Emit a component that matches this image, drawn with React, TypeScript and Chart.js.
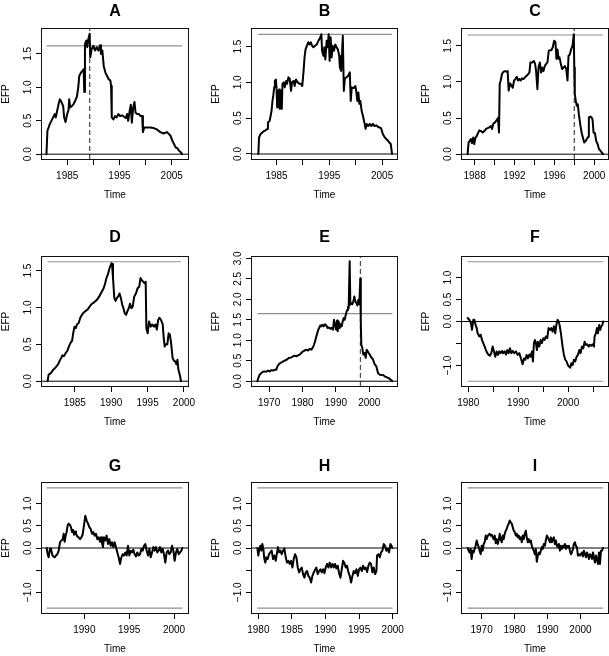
import { useEffect, useRef } from 'react';
import { Chart, registerables } from 'chart.js';
Chart.register(...registerables);

const FONT = '"Liberation Sans", Arial, Helvetica, sans-serif';

// ---------- data (time in years, EFP values) ----------
const aTime = [1981.03,1981.22,1981.67,1982.31,1982.63,1982.82,1983.08,1983.33,1983.59,1983.91,1984.23,1984.42,1984.68,1985.0,1985.26,1985.38,1985.58,1985.9,1986.22,1986.54,1986.86,1987.12,1987.31,1987.63,1987.95,1988.14,1988.27,1988.4,1988.65,1988.85,1989.04,1989.3,1989.42,1989.68,1990.0,1990.32,1990.64,1990.96,1991.28,1991.47,1991.73,1991.99,1992.31,1992.63,1992.95,1993.27,1993.4,1993.53,1993.85,1994.17,1994.49,1994.81,1995.13,1995.51,1995.9,1996.22,1996.47,1996.67,1996.92,1997.18,1997.37,1997.63,1997.88,1998.08,1998.4,1998.72,1999.04,1999.36,1999.49,1999.74,2000.26,2000.9,2001.54,2002.18,2002.82,2003.46,2004.1,2004.49,2004.81,2005.13,2005.45,2005.77,2006.09,2006.41,2006.73,2006.99];
const aEfp = [0,0.35,0.45,0.55,0.6,0.55,0.65,0.74,0.82,0.78,0.72,0.55,0.48,0.6,0.66,0.82,0.7,0.72,0.75,0.8,0.86,1.0,1.17,1.22,1.25,1.27,0.93,1.65,1.7,1.6,1.72,1.8,1.45,1.57,1.62,1.55,1.6,1.55,1.63,1.5,1.55,1.32,1.22,1.17,1.12,1.1,1.02,0.55,0.52,0.57,0.55,0.6,0.57,0.58,0.56,0.54,0.6,0.5,0.63,0.74,0.47,0.7,0.78,0.62,0.6,0.6,0.57,0.57,0.33,0.4,0.4,0.4,0.39,0.37,0.33,0.31,0.33,0.3,0.27,0.2,0.15,0.1,0.09,0.05,0.03,0];

const bTime = [1981.56,1981.69,1982.0,1982.31,1982.63,1982.94,1983.25,1983.38,1983.69,1983.88,1984.06,1984.25,1984.38,1984.56,1984.69,1984.88,1985.0,1985.13,1985.25,1985.38,1985.5,1985.63,1985.81,1986.0,1986.13,1986.38,1986.56,1986.81,1987.0,1987.25,1987.5,1987.75,1987.94,1988.25,1988.44,1988.69,1989.0,1989.31,1989.63,1989.88,1990.13,1990.31,1990.5,1990.75,1991.0,1991.25,1991.5,1991.75,1992.0,1992.31,1992.63,1992.94,1993.25,1993.5,1993.63,1993.88,1994.06,1994.25,1994.5,1994.69,1994.88,1995.06,1995.25,1995.44,1995.63,1995.88,1996.13,1996.38,1996.63,1996.88,1997.0,1997.25,1997.56,1997.75,1997.94,1998.25,1998.56,1998.88,1999.06,1999.25,1999.63,1999.94,2000.13,2000.31,2000.5,2000.69,2000.88,2001.13,2001.38,2001.69,2001.88,2002.06,2002.38,2002.63,2002.94,2003.25,2003.56,2003.88,2004.19,2004.5,2004.81,2005.13,2005.44,2005.75,2006.06,2006.38,2006.63,2006.88];
const bEfp = [0,0.23,0.28,0.3,0.32,0.33,0.35,0.44,0.46,0.53,0.6,0.75,0.81,0.93,1.02,1.04,0.93,0.65,0.88,0.67,0.9,0.63,0.88,0.63,0.98,1.0,0.93,1.02,0.98,1.07,1.05,0.88,1.0,1.02,0.95,1.04,1.0,0.98,0.98,0.95,1.16,1.35,1.46,1.51,1.56,1.53,1.56,1.51,1.49,1.51,1.53,1.58,1.62,1.67,1.44,1.37,1.49,1.32,1.58,1.49,1.67,1.3,1.63,1.35,1.51,1.44,1.53,1.49,1.46,1.37,1.21,1.16,1.65,0.88,1.05,1.07,1.09,1.14,0.74,0.93,0.92,0.95,0.86,0.74,0.86,0.7,0.74,0.6,0.53,0.42,0.35,0.42,0.39,0.42,0.39,0.42,0.39,0.4,0.38,0.37,0.36,0.28,0.24,0.21,0.19,0.16,0.14,0];

const cTime = [1987.3,1987.4,1987.54,1987.64,1987.74,1987.87,1987.97,1988.07,1988.21,1988.34,1988.48,1988.64,1988.81,1988.98,1989.15,1989.31,1989.48,1989.65,1989.75,1989.88,1990.05,1990.22,1990.35,1990.45,1990.52,1990.62,1990.75,1990.89,1991.06,1991.22,1991.32,1991.42,1991.56,1991.69,1991.83,1991.96,1992.09,1992.23,1992.36,1992.5,1992.63,1992.76,1992.9,1993.03,1993.17,1993.33,1993.5,1993.6,1993.77,1993.94,1994.07,1994.17,1994.3,1994.41,1994.54,1994.67,1994.77,1994.91,1995.04,1995.18,1995.31,1995.44,1995.58,1995.71,1995.84,1995.98,1996.11,1996.21,1996.32,1996.42,1996.52,1996.65,1996.78,1996.92,1997.05,1997.19,1997.32,1997.42,1997.55,1997.68,1997.82,1997.95,1998.0,1998.05,1998.15,1998.25,1998.35,1998.46,1998.59,1998.73,1998.86,1998.99,1999.13,1999.26,1999.4,1999.46,1999.6,1999.73,1999.83,1999.93,2000.07,2000.2,2000.34,2000.47,2000.61,2000.81,2000.87];
const cEfp = [0,0.16,0.19,0.21,0.15,0.23,0.14,0.22,0.25,0.29,0.33,0.32,0.3,0.32,0.35,0.36,0.37,0.39,0.35,0.42,0.44,0.47,0.5,0.3,0.97,1.02,1.11,1.14,1.15,1.14,1.15,0.88,0.98,0.95,0.92,1.02,1.04,1.07,1.02,1.04,1.02,1.05,1.04,1.06,1.08,1.1,1.13,1.27,1.27,1.29,1.25,1.15,0.9,1.2,1.27,1.13,1.2,1.15,1.22,1.25,1.27,1.43,1.44,1.44,1.48,1.57,1.55,1.32,1.45,1.32,1.34,1.25,1.18,1.2,1.22,1.18,1.02,1.36,1.38,1.45,1.5,1.66,1.2,0.83,0.74,0.67,0.69,0.55,0.42,0.3,0.23,0.16,0.18,0.21,0.24,0.51,0.52,0.51,0.48,0.3,0.29,0.18,0.14,0.07,0.05,0.01,0];

const dTime = [1981.27,1981.41,1981.72,1982.08,1982.4,1982.71,1982.89,1983.16,1983.29,1983.52,1983.74,1983.97,1984.19,1984.42,1984.64,1984.78,1984.96,1985.13,1985.31,1985.54,1985.76,1985.99,1986.21,1986.44,1986.75,1987.02,1987.33,1987.65,1988.01,1988.37,1988.68,1988.91,1989.13,1989.35,1989.58,1989.8,1990.03,1990.12,1990.25,1990.43,1990.61,1990.79,1990.97,1991.15,1991.33,1991.51,1991.69,1991.87,1992.05,1992.23,1992.41,1992.59,1992.77,1992.95,1993.17,1993.4,1993.62,1993.85,1994.03,1994.21,1994.38,1994.56,1994.74,1994.83,1995.01,1995.19,1995.42,1995.64,1995.87,1996.09,1996.27,1996.45,1996.63,1996.85,1997.08,1997.21,1997.35,1997.53,1997.71,1997.89,1998.07,1998.25,1998.43,1998.61,1998.79,1998.97,1999.1,1999.23,1999.46,1999.59];
const dEfp = [0,0.09,0.11,0.16,0.19,0.23,0.27,0.32,0.35,0.34,0.38,0.41,0.47,0.52,0.55,0.65,0.74,0.72,0.77,0.79,0.86,0.9,0.93,0.95,0.97,1.01,1.05,1.07,1.1,1.15,1.21,1.25,1.31,1.4,1.46,1.54,1.6,1.59,1.4,1.13,1.09,1.13,1.15,1.19,1.13,1.04,0.99,0.92,0.9,0.95,0.99,1.05,0.99,1.01,1.15,1.19,1.26,1.28,1.4,1.37,1.35,1.33,1.35,0.72,0.65,0.81,0.74,0.77,0.74,0.77,0.7,0.83,0.86,0.83,0.77,0.59,0.47,0.5,0.5,0.65,0.63,0.5,0.32,0.28,0.27,0.23,0.29,0.16,0.07,0];

const eTime = [1966.48,1966.78,1967.18,1967.67,1968.17,1968.67,1969.17,1969.67,1970.17,1970.67,1971.17,1971.67,1972.17,1972.47,1972.96,1973.46,1973.96,1974.66,1975.36,1975.96,1976.66,1977.16,1977.66,1978.15,1978.65,1979.15,1979.65,1980.15,1980.65,1981.15,1981.65,1982.15,1982.65,1983.14,1983.44,1983.74,1984.14,1984.44,1984.74,1985.04,1985.34,1985.64,1985.94,1986.34,1986.74,1987.13,1987.53,1987.93,1988.33,1988.73,1989.13,1989.43,1989.73,1990.03,1990.33,1990.53,1990.83,1991.13,1991.43,1991.73,1992.03,1992.32,1992.62,1992.92,1993.22,1993.42,1993.62,1993.82,1994.12,1994.32,1994.62,1994.92,1995.22,1995.52,1995.82,1996.12,1996.42,1996.72,1997.01,1997.3,1997.45,1997.61,1997.91,1998.21,1998.61,1998.91,1999.21,1999.51,1999.81,2000.11,2000.61,2001.11,2001.61,2002.11,2002.61,2003.1,2003.6,2004.1,2004.6,2005.1,2005.6,2006.1,2006.6,2006.9];
const eEfp = [0,0.08,0.16,0.2,0.23,0.24,0.23,0.26,0.24,0.27,0.26,0.28,0.28,0.36,0.42,0.45,0.47,0.5,0.53,0.57,0.58,0.61,0.62,0.61,0.63,0.65,0.69,0.73,0.75,0.77,0.75,0.79,0.77,0.83,0.89,0.97,1.09,1.18,1.26,1.31,1.36,1.34,1.38,1.34,1.39,1.36,1.3,1.31,1.28,1.3,1.26,1.5,1.38,1.26,1.48,1.22,1.46,1.3,1.39,1.34,1.46,1.54,1.5,1.61,1.7,1.74,1.82,1.78,2.93,1.87,1.91,1.88,1.95,2.07,1.95,1.91,1.85,1.99,1.88,2.51,1.46,0.89,0.81,0.65,0.69,0.57,0.77,0.73,0.69,0.65,0.58,0.53,0.41,0.36,0.2,0.16,0.15,0.15,0.12,0.1,0.08,0.06,0.02,0];

const fTime = [1979.87,1980.21,1980.54,1980.74,1981.01,1981.21,1981.41,1981.68,1981.88,1982.21,1982.48,1982.74,1983.01,1983.28,1983.54,1983.81,1984.08,1984.34,1984.61,1984.88,1985.15,1985.41,1985.68,1985.95,1986.21,1986.48,1986.75,1987.01,1987.28,1987.55,1987.81,1988.08,1988.35,1988.62,1988.88,1989.22,1989.55,1989.88,1990.22,1990.55,1990.88,1991.15,1991.42,1991.68,1991.95,1992.22,1992.48,1992.75,1992.95,1993.15,1993.35,1993.55,1993.75,1993.95,1994.22,1994.49,1994.75,1995.02,1995.29,1995.55,1995.82,1996.09,1996.36,1996.62,1996.89,1997.16,1997.42,1997.69,1997.89,1998.09,1998.29,1998.56,1998.89,1999.16,1999.43,1999.69,1999.96,2000.23,2000.43,2000.63,2000.9,2001.17,2001.43,2001.7,2001.97,2002.24,2002.5,2002.77,2003.04,2003.3,2003.57,2003.84,2004.11,2004.37,2004.64,2004.91,2005.17,2005.31,2005.57,2005.77,2005.97,2006.24,2006.44,2006.64,2006.84,2007.04];
const fEfp = [0.08,0.04,-0.04,-0.19,0.04,0.04,-0.06,-0.15,-0.27,-0.34,-0.3,-0.42,-0.49,-0.57,-0.65,-0.72,-0.76,-0.78,-0.72,-0.57,-0.68,-0.8,-0.68,-0.76,-0.68,-0.72,-0.67,-0.72,-0.68,-0.75,-0.65,-0.72,-0.61,-0.72,-0.67,-0.72,-0.68,-0.76,-0.72,-0.84,-0.97,-0.84,-0.87,-0.76,-0.84,-0.75,-0.8,-0.68,-0.91,-0.49,-0.42,-0.49,-0.65,-0.46,-0.57,-0.42,-0.49,-0.38,-0.42,-0.34,-0.38,-0.15,-0.19,-0.15,-0.23,-0.11,-0.27,-0.04,0.04,0,-0.08,-0.27,-0.57,-0.76,-0.87,-0.91,-0.99,-1.03,-1.05,-0.95,-0.99,-0.87,-0.91,-0.8,-0.76,-0.65,-0.72,-0.57,-0.61,-0.46,-0.53,-0.52,-0.57,-0.53,-0.55,-0.52,-0.57,-0.34,-0.27,-0.15,-0.27,-0.08,-0.19,-0.11,-0.08,0];

const gTime = [1985.8,1985.91,1986.02,1986.17,1986.28,1986.43,1986.54,1986.69,1986.84,1986.99,1987.14,1987.29,1987.43,1987.58,1987.7,1987.81,1987.92,1988.03,1988.14,1988.25,1988.4,1988.51,1988.62,1988.74,1988.85,1988.96,1989.07,1989.22,1989.37,1989.52,1989.67,1989.81,1989.96,1990.11,1990.26,1990.41,1990.56,1990.71,1990.86,1991.0,1991.15,1991.3,1991.45,1991.6,1991.75,1991.86,1991.97,1992.08,1992.19,1992.34,1992.49,1992.64,1992.79,1992.94,1993.09,1993.23,1993.38,1993.53,1993.68,1993.83,1993.98,1994.13,1994.28,1994.42,1994.57,1994.72,1994.87,1995.02,1995.17,1995.32,1995.46,1995.61,1995.76,1995.91,1996.06,1996.21,1996.36,1996.51,1996.65,1996.8,1996.95,1997.1,1997.25,1997.4,1997.55,1997.7,1997.84,1997.99,1998.14,1998.29,1998.44,1998.59,1998.74,1998.88,1999.03,1999.18,1999.33,1999.48,1999.63,1999.78,1999.93,2000.07,2000.22,2000.37,2000.52,2000.67,2000.82,2000.93];
const gEfp = [0,-0.14,-0.21,-0.02,-0.01,-0.16,-0.19,-0.21,-0.17,-0.14,-0.06,0.13,0.17,0.19,0.32,0.14,0.28,0.36,0.51,0.55,0.52,0.47,0.36,0.41,0.3,0.37,0.32,0.26,0.24,0.2,0.24,0.3,0.51,0.73,0.62,0.55,0.47,0.43,0.32,0.36,0.28,0.32,0.2,0.24,0.14,0.24,0.11,0.02,0.24,0.17,0.28,0.09,0.2,0.05,0.13,0.02,0.13,0.02,-0.1,-0.21,-0.36,-0.21,-0.14,-0.17,-0.1,-0.17,0.05,-0.17,-0.06,-0.1,-0.04,-0.14,-0.19,-0.1,-0.17,-0.14,-0.02,-0.06,0.05,0.09,-0.06,-0.17,-0.02,-0.21,-0.1,0.02,-0.06,0.02,-0.1,-0.06,0.02,-0.1,-0.02,-0.14,-0.33,-0.1,-0.06,-0.14,-0.1,0.05,-0.06,-0.29,-0.1,-0.02,-0.14,-0.1,-0.06,0];

const hTime = [1979.86,1980.0,1980.15,1980.3,1980.45,1980.6,1980.75,1980.9,1981.05,1981.2,1981.4,1981.59,1981.79,1981.99,1982.19,1982.39,1982.59,1982.79,1982.93,1983.08,1983.28,1983.48,1983.68,1983.88,1984.08,1984.27,1984.47,1984.67,1984.87,1985.07,1985.27,1985.47,1985.67,1985.87,1986.07,1986.26,1986.46,1986.66,1986.86,1987.06,1987.26,1987.45,1987.65,1987.85,1988.05,1988.25,1988.45,1988.64,1988.84,1989.04,1989.24,1989.44,1989.64,1989.84,1990.03,1990.23,1990.43,1990.63,1990.83,1991.03,1991.23,1991.42,1991.62,1991.82,1992.02,1992.22,1992.42,1992.62,1992.81,1993.01,1993.21,1993.41,1993.61,1993.81,1994.01,1994.2,1994.4,1994.6,1994.8,1995.0,1995.2,1995.4,1995.59,1995.79,1995.99,1996.19,1996.39,1996.58,1996.78,1996.98,1997.18,1997.38,1997.58,1997.67,1997.87,1998.07,1998.27,1998.47,1998.67,1998.87,1999.06,1999.26,1999.46,1999.66,1999.81,1999.96];
const hEfp = [0,-0.17,-0.02,0.05,-0.06,0.09,-0.02,-0.25,-0.33,-0.21,-0.25,-0.14,-0.1,-0.06,-0.25,-0.17,-0.29,-0.1,0.02,-0.1,-0.06,-0.14,-0.06,-0.01,-0.21,-0.33,-0.29,-0.36,-0.29,-0.44,-0.25,-0.14,-0.21,-0.44,-0.55,-0.48,-0.44,-0.59,-0.67,-0.55,-0.52,-0.63,-0.67,-0.78,-0.63,-0.55,-0.49,-0.44,-0.59,-0.52,-0.48,-0.55,-0.48,-0.57,-0.44,-0.36,-0.44,-0.33,-0.44,-0.36,-0.44,-0.36,-0.46,-0.4,-0.57,-0.67,-0.48,-0.29,-0.34,-0.44,-0.4,-0.55,-0.63,-0.78,-0.63,-0.52,-0.57,-0.48,-0.63,-0.48,-0.44,-0.52,-0.4,-0.48,-0.44,-0.54,-0.4,-0.33,-0.36,-0.55,-0.44,-0.59,-0.52,-0.17,-0.14,-0.21,-0.1,-0.06,0.09,0.05,-0.06,-0.02,-0.1,0.09,0.05,0];

const iTime = [1965.76,1966.06,1966.37,1966.67,1966.98,1967.28,1967.59,1967.89,1968.19,1968.5,1968.8,1969.11,1969.41,1969.72,1970.02,1970.32,1970.63,1970.93,1971.24,1971.54,1971.85,1972.15,1972.45,1972.76,1973.06,1973.37,1973.67,1973.98,1974.28,1974.58,1974.89,1975.19,1975.5,1975.8,1976.11,1976.41,1976.71,1977.02,1977.32,1977.63,1977.93,1978.24,1978.54,1978.84,1979.15,1979.45,1979.76,1980.06,1980.37,1980.67,1980.97,1981.28,1981.58,1981.89,1982.19,1982.49,1982.8,1983.1,1983.41,1983.71,1984.02,1984.32,1984.62,1984.93,1985.23,1985.54,1985.84,1986.15,1986.45,1986.75,1987.06,1987.36,1987.67,1987.97,1988.28,1988.58,1988.88,1989.19,1989.49,1989.8,1990.1,1990.41,1990.71,1991.01,1991.32,1991.62,1991.93,1992.23,1992.54,1992.84,1993.14,1993.45,1993.75,1994.06,1994.36,1994.67,1994.97,1995.27,1995.58,1995.88,1996.19,1996.49,1996.8,1997.1,1997.4,1997.71,1998.01,1998.32,1998.62,1998.93,1999.23,1999.53,1999.84,2000.14,2000.45,2000.75,2001.06,2001.36,2001.66,2001.97,2002.27,2002.58,2002.88,2003.19,2003.49,2003.79,2004.1,2004.4,2004.71,2005.01,2005.32,2005.62,2005.93,2006.23,2006.53,2006.84];
const iEfp = [0,-0.06,-0.1,-0.02,-0.25,-0.06,-0.1,-0.02,0.05,0.17,0.09,0.02,-0.06,-0.14,0.05,-0.06,0.09,0.13,0.28,0.2,0.27,0.3,0.32,0.28,0.3,0.24,0.2,0.28,0.11,0.2,0.09,0.17,0.32,0.2,0.13,0.28,0.2,0.32,0.39,0.43,0.51,0.55,0.62,0.58,0.55,0.47,0.39,0.36,0.28,0.32,0.24,0.28,0.2,0.24,0.13,0.28,0.2,0.32,0.39,0.24,0.13,0.2,0.13,0.17,0.05,-0.02,-0.06,-0.14,-0.02,-0.31,-0.17,-0.1,-0.14,-0.06,0.02,-0.02,0.09,0.05,0.17,0.28,0.24,0.19,0.13,0.24,0.13,0.2,0.24,0.09,0.17,0.05,0.02,0.09,-0.06,0.05,-0.02,0.05,0.02,0.09,-0.02,0.05,0.02,0.05,-0.06,-0.14,-0.1,-0.02,0.09,0.13,0.05,0.02,-0.17,-0.14,-0.17,-0.14,-0.1,-0.19,-0.06,-0.14,-0.21,-0.1,-0.16,-0.25,-0.14,-0.17,-0.25,-0.1,-0.21,-0.33,-0.17,-0.25,-0.36,-0.1,-0.36,-0.06,-0.06,0];

// ---------- axis ticks ----------
const ticksAB = [1985, 1990, 1995, 2000, 2005];
const labelsAB = ['1985', '', '1995', '', '2005'];
const ticksC = [1988, 1990, 1992, 1994, 1996, 1998, 2000];
const labelsC = ['1988', '', '1992', '', '1996', '', '2000'];
const ticksD = [1985, 1990, 1995, 2000];
const ticksE = [1970, 1980, 1990, 2000];
const ticksF = [1980, 1985, 1990, 1995, 2000, 2005];
const labelsF = ['1980', '', '1990', '', '2000', ''];
const ticksG = [1990, 1995, 2000];
const ticksH = [1980, 1985, 1990, 1995, 2000];
const ticksI = [1970, 1980, 1990, 2000];

const yTicksPos = [0, 0.5, 1, 1.5];
const yLabelsPos = ['0.0', '0.5', '1.0', '1.5'];
const yTicksE = [0, 0.5, 1, 1.5, 2, 2.5, 3];
const yLabelsE = ['0.0', '0.5', '1.0', '1.5', '2.0', '2.5', '3.0'];
const yTicksSym = [-1, -0.5, 0, 0.5, 1];
const yLabelsSym = ['\u22121.0', '', '0.0', '0.5', '1.0'];

// boundaries / break dates
const boundA = 1.62, boundB = 1.67, boundC = 1.65, boundD = 1.62, boundE = 1.65, boundSym = 1.358;
const breakA = 1989.3, breakC = 1998.0, breakE = 1997.35;

type Panel = {
  title: string; time: number[]; efp: number[];
  cx: number; cy: number; cw: number; ch: number;
  l: number; r: number; t: number; b: number; titleY: number;
  xMin: number; xMax: number; yMin: number; yMax: number;
  xTicks: number[]; xLabels: string[]; yTicks: number[]; yLabels: string[];
  bound: number; sym: boolean; brk: number | null;
};

const COLS = [
  { cx: 0, cw: 203, l: 42, r: 188 },
  { cx: 203, cw: 203, l: 252, r: 397 },
  { cx: 406, cw: 203, l: 462, r: 608 },
];
const ROWS = [
  { cy: 0, ch: 218, t: 29, b: 159, titleY: 12 },
  { cy: 218, ch: 218, t: 257, b: 386, titleY: 238 },
  { cy: 436, ch: 220, t: 483, b: 613, titleY: 467 },
];

function mk(title: string, row: number, col: number, time: number[], efp: number[], rest: any): Panel {
  return { title, time, efp, ...COLS[col], ...ROWS[row], ...rest } as Panel;
}

const PANELS: Panel[] = [
  mk('A', 0, 0, aTime, aEfp, { xMin: 1980.18, xMax: 2008.12, yMin: -0.072, yMax: 1.872, xTicks: ticksAB, xLabels: labelsAB, yTicks: yTicksPos, yLabels: yLabelsPos, bound: boundA, sym: false, brk: breakA }),
  mk('B', 0, 1, bTime, bEfp, { xMin: 1980.36, xMax: 2007.82, yMin: -0.07, yMax: 1.745, xTicks: ticksAB, xLabels: labelsAB, yTicks: yTicksPos, yLabels: yLabelsPos, bound: boundB, sym: false, brk: null }),
  mk('C', 0, 2, cTime, cEfp, { xMin: 1986.74, xMax: 2001.38, yMin: -0.067, yMax: 1.733, xTicks: ticksC, xLabels: labelsC, yTicks: yTicksPos, yLabels: yLabelsPos, bound: boundC, sym: false, brk: breakC }),
  mk('D', 1, 0, dTime, dEfp, { xMin: 1980.5, xMax: 2000.55, yMin: -0.065, yMax: 1.685, xTicks: ticksD, xLabels: ticksD.map(String), yTicks: yTicksPos, yLabels: yLabelsPos, bound: boundD, sym: false, brk: null }),
  mk('E', 1, 1, eTime, eEfp, { xMin: 1964.88, xMax: 2008.29, yMin: -0.117, yMax: 3.033, xTicks: ticksE, xLabels: ticksE.map(String), yTicks: yTicksE, yLabels: yLabelsE, bound: boundE, sym: false, brk: breakE }),
  mk('F', 1, 2, fTime, fEfp, { xMin: 1978.74, xMax: 2007.99, yMin: -1.467, yMax: 1.467, xTicks: ticksF, xLabels: labelsF, yTicks: yTicksSym, yLabels: yLabelsSym, bound: boundSym, sym: true, brk: null }),
  mk('G', 2, 0, gTime, gEfp, { xMin: 1985.28, xMax: 2001.56, yMin: -1.467, yMax: 1.467, xTicks: ticksG, xLabels: ticksG.map(String), yTicks: yTicksSym, yLabels: yLabelsSym, bound: boundSym, sym: true, brk: null }),
  mk('H', 2, 1, hTime, hEfp, { xMin: 1979.06, xMax: 2000.64, yMin: -1.467, yMax: 1.467, xTicks: ticksH, xLabels: ticksH.map(String), yTicks: yTicksSym, yLabels: yLabelsSym, bound: boundSym, sym: true, brk: null }),
  mk('I', 2, 2, iTime, iEfp, { xMin: 1964.05, xMax: 2008.36, yMin: -1.467, yMax: 1.467, xTicks: ticksI, xLabels: ticksI.map(String), yTicks: yTicksSym, yLabels: yLabelsSym, bound: boundSym, sym: true, brk: null }),
];

const AXIS_W = 42;
const AXIS_H = 42;

function textWidth(s: string, font: string): number {
  const c = document.createElement('canvas').getContext('2d');
  if (!c) return s.length * 5.5;
  c.font = font;
  return c.measureText(s).width;
}

const decor = {
  id: 'decor',
  afterDatasetsDraw(chart: any, _args: any, opts: any) {
    const { ctx, chartArea: a } = chart;
    ctx.save();
    ctx.strokeStyle = '#111';
    ctx.lineWidth = 1;
    ctx.strokeRect(Math.round(a.left) - 0.5, Math.round(a.top) - 0.5, Math.round(a.right - a.left) + 1, Math.round(a.bottom - a.top) + 1);
    ctx.fillStyle = '#000';
    ctx.font = `bold 16px ${FONT}`;
    ctx.textAlign = 'center';
    ctx.textBaseline = 'middle';
    ctx.fillText(opts.title, (a.left + a.right) / 2, opts.titleY);
    ctx.restore();
  },
};

function PanelChart({ p }: { p: Panel }) {
  const ref = useRef<HTMLCanvasElement>(null);
  useEffect(() => {
    const canvas = ref.current;
    if (!canvas) return;
    const t0 = p.time[0];
    const t1 = p.time[p.time.length - 1];
    const series = p.time.map((t, i) => ({ x: t, y: p.efp[i] }));
    const datasets: any[] = [
      { data: series, borderColor: '#000', borderWidth: 2, pointRadius: 0, tension: 0, borderJoinStyle: 'round', borderCapStyle: 'round' },
      { data: [{ x: t0, y: p.bound }, { x: t1, y: p.bound }], borderColor: '#8f8f8f', borderWidth: 1.1, pointRadius: 0 },
    ];
    if (p.sym) datasets.push({ data: [{ x: t0, y: -p.bound }, { x: t1, y: -p.bound }], borderColor: '#8f8f8f', borderWidth: 1.1, pointRadius: 0 });
    datasets.push({ data: [{ x: p.xMin, y: 0 }, { x: p.xMax, y: 0 }], borderColor: '#000', borderWidth: 1, pointRadius: 0 });
    if (p.brk !== null) datasets.push({ data: [{ x: p.brk, y: p.yMin }, { x: p.brk, y: p.yMax }], borderColor: '#555', borderWidth: 1.3, borderDash: [5, 3], pointRadius: 0 });

    const tickFont = `10px ${FONT}`;
    const widest = Math.max(...p.yLabels.map((s) => textWidth(s, tickFont)));
    const yPad = 8 - widest / 2;

    const chart = new Chart(canvas, {
      type: 'line',
      data: { datasets },
      plugins: [decor],
      options: {
        animation: false,
        responsive: false,
        devicePixelRatio: 1,
        events: [],
        layout: {
          padding: {
            left: p.l - p.cx - AXIS_W,
            right: p.cx + p.cw - p.r,
            top: p.t - p.cy,
            bottom: p.cy + p.ch - p.b - AXIS_H,
          },
        },
        plugins: {
          legend: { display: false },
          tooltip: { enabled: false },
          title: { display: false },
          decor: { title: p.title, titleY: p.titleY - p.cy },
        } as any,
        scales: {
          x: {
            type: 'linear',
            position: 'bottom',
            min: p.xMin,
            max: p.xMax,
            afterBuildTicks: (s: any) => { s.ticks = p.xTicks.map((v) => ({ value: v })); },
            afterFit: (s: any) => { s.height = AXIS_H; s.paddingLeft = 0; s.paddingRight = 0; },
            ticks: {
              autoSkip: false, maxRotation: 0, minRotation: 0, padding: 5.5, color: '#000',
              font: { size: 10, family: FONT },
              callback: (_v: any, i: number) => p.xLabels[i] ?? '',
            },
            grid: { drawOnChartArea: false, drawTicks: true, tickLength: 6, color: '#000', lineWidth: 1 },
            border: { display: false },
            title: { display: true, text: 'Time', color: '#000', font: { size: 10, family: FONT, lineHeight: 1.2 }, padding: { top: 0, bottom: 0 } },
          },
          y: {
            type: 'linear',
            position: 'left',
            min: p.yMin,
            max: p.yMax,
            afterBuildTicks: (s: any) => { s.ticks = p.yTicks.map((v) => ({ value: v })); },
            afterFit: (s: any) => { s.width = AXIS_W; s.paddingTop = 0; s.paddingBottom = 0; },
            ticks: {
              autoSkip: false, minRotation: 90, maxRotation: 90, crossAlign: 'center', padding: yPad, color: '#000',
              font: { size: 10, family: FONT },
              callback: (_v: any, i: number) => p.yLabels[i] ?? '',
            },
            grid: { drawOnChartArea: false, drawTicks: true, tickLength: 6, color: '#000', lineWidth: 1 },
            border: { display: false },
            title: { display: true, text: 'EFP', color: '#000', font: { size: 10, family: FONT, lineHeight: 1.2 }, padding: { top: 0, bottom: 0 } },
          },
        },
      } as any,
    });
    return () => chart.destroy();
  }, [p]);
  return (
    <canvas
      ref={ref}
      width={p.cw}
      height={p.ch}
      style={{ position: 'absolute', left: p.cx, top: p.cy, width: p.cw, height: p.ch }}
    />
  );
}

export default function App() {
  return (
    <div style={{ position: 'absolute', left: 0, top: 0, width: 609, height: 656, background: '#fff', overflow: 'hidden' }}>
      {PANELS.map((p) => (
        <PanelChart key={p.title} p={p} />
      ))}
    </div>
  );
}
